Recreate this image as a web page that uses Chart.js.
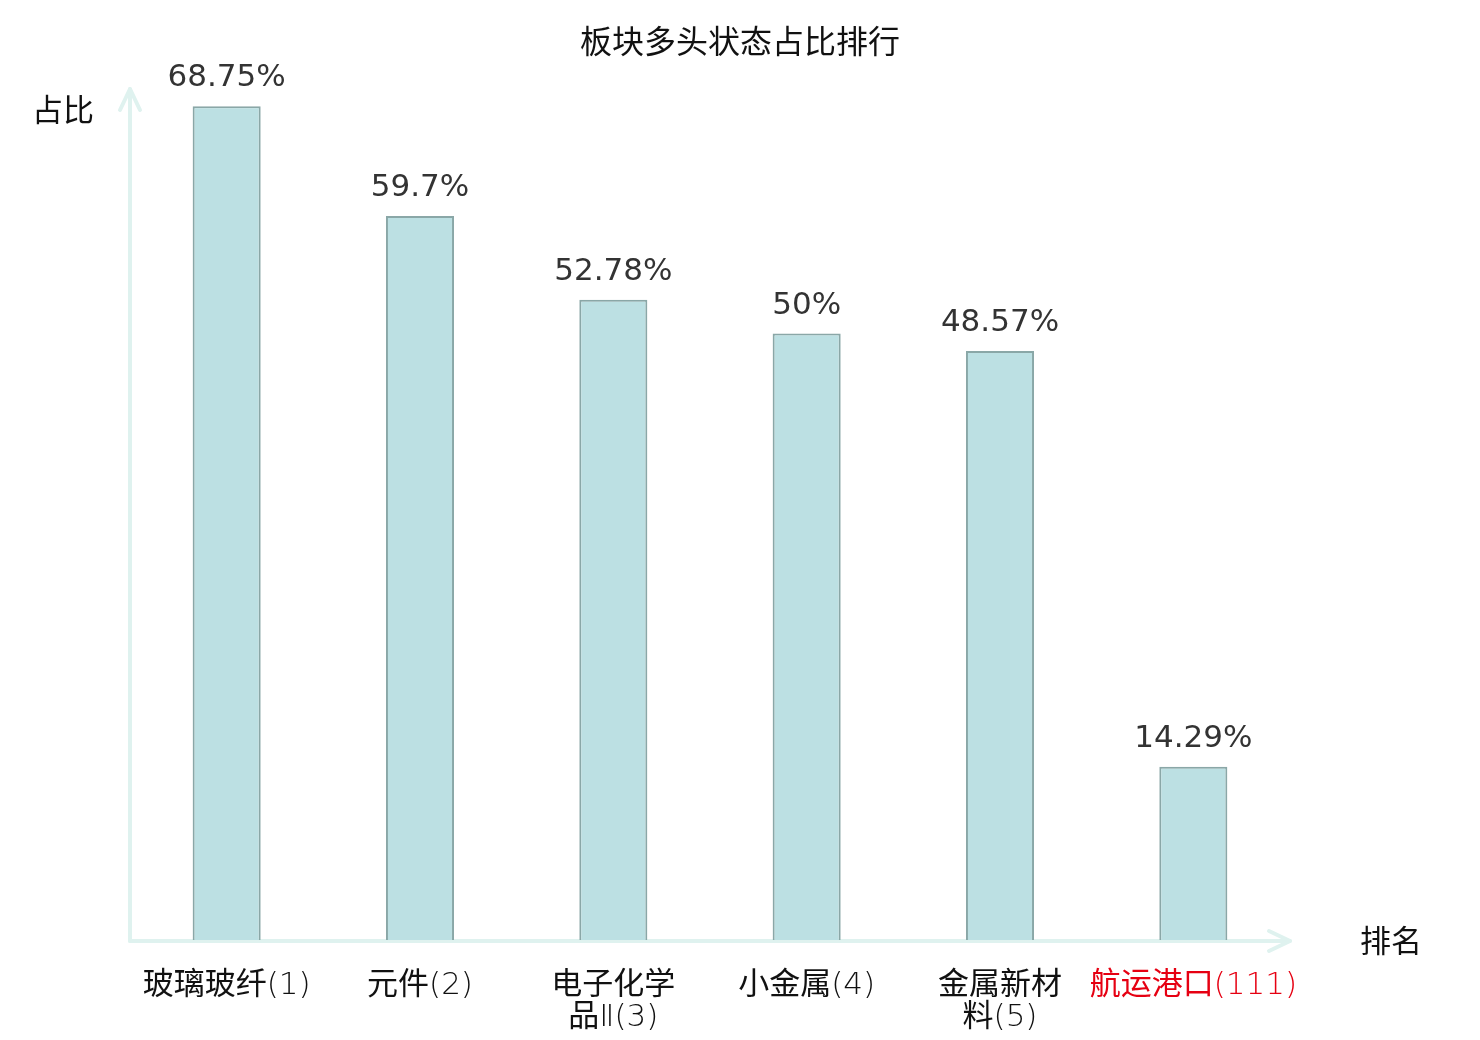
<!DOCTYPE html>
<html>
<head>
<meta charset="utf-8">
<script src="https://cdn.jsdelivr.net/npm/chart.js@4"></script>
<style>
html,body{margin:0;padding:0;background:#fff;}
#wrap{width:1480px;height:1040px;position:relative;}
</style>
</head>
<body>
<div id="wrap"><canvas id="c" width="1480" height="1040"></canvas></div>
<script>
const categories = [["玻璃玻纤(1)"], ["元件(2)"], ["电子化学", "品Ⅱ(3)"], ["小金属(4)"], ["金属新材", "料(5)"], ["航运港口(111)"]];
const values = [68.75, 59.7, 52.78, 50, 48.57, 14.29];
const valueLabels = ["68.75%", "59.7%", "52.78%", "50%", "48.57%", "14.29%"];
const tickColors = ["#111111", "#111111", "#111111", "#111111", "#111111", "#e60012"];
const chartTitle = "板块多头状态占比排行";
const yAxisName = "占比";
const xAxisName = "排名";

const AXIS_COLOR = "#dff2ef";

const decorPlugin = {
  id: "decor",
  beforeDatasetsDraw(chart) {
    const ctx = chart.ctx;
    const a = chart.chartArea;
    ctx.save();
    ctx.strokeStyle = AXIS_COLOR;
    ctx.lineWidth = 4;
    ctx.lineCap = "round";
    ctx.lineJoin = "round";
    // y axis
    ctx.beginPath();
    ctx.moveTo(a.left, a.bottom + 1);
    ctx.lineTo(a.left, a.top - 2);
    ctx.stroke();
    ctx.beginPath();
    ctx.moveTo(a.left - 10, a.top + 19);
    ctx.lineTo(a.left, a.top - 2);
    ctx.lineTo(a.left + 10, a.top + 19);
    ctx.stroke();
    // x axis
    ctx.beginPath();
    ctx.moveTo(a.left, a.bottom + 1);
    ctx.lineTo(a.right, a.bottom + 1);
    ctx.stroke();
    ctx.beginPath();
    ctx.moveTo(a.right - 21, a.bottom - 9);
    ctx.lineTo(a.right, a.bottom + 1);
    ctx.lineTo(a.right - 21, a.bottom + 11);
    ctx.stroke();
    ctx.restore();
  },
  afterDatasetsDraw(chart) {
    const ctx = chart.ctx;
    ctx.save();
    // value labels
    ctx.font = "31px 'DejaVu Sans', 'Noto Sans CJK SC'";
    ctx.fillStyle = "#333333";
    ctx.textAlign = "center";
    ctx.textBaseline = "middle";
    const meta = chart.getDatasetMeta(0);
    meta.data.forEach((bar, i) => {
      ctx.fillText(valueLabels[i], bar.x, bar.y - 28);
    });
    // title
    ctx.font = "32px 'DejaVu Sans', 'Noto Sans CJK SC'";
    ctx.fillStyle = "#111111";
    ctx.fillText(chartTitle, 740, 45);
    // axis names
    ctx.font = "31px 'DejaVu Sans', 'Noto Sans CJK SC'";
    ctx.fillText(yAxisName, 63, 113);
    ctx.fillText(xAxisName, 1391, 944);
    ctx.restore();
  }
};

new Chart(document.getElementById("c"), {
  type: "bar",
  data: {
    labels: categories,
    datasets: [{
      data: values,
      backgroundColor: "#bce0e3",
      borderColor: "#8aa7a7",
      borderWidth: 2,
      borderSkipped: "bottom",
      categoryPercentage: 1,
      barPercentage: 0.352
    }]
  },
  options: {
    responsive: false,
    animation: false,
    devicePixelRatio: 1,
    layout: { padding: { left: 130, right: 190, top: 91, bottom: 0 } },
    plugins: {
      legend: { display: false },
      title: { display: false },
      tooltip: { enabled: false }
    },
    scales: {
      y: {
        display: false,
        min: 0,
        max: 70
      },
      x: {
        grid: { display: false, drawTicks: false },
        border: { display: false },
        afterFit(scale) { scale.height = 100; },
        ticks: {
          autoSkip: false,
          maxRotation: 0,
          padding: 30,
          color: tickColors,
          font: { family: "'DejaVu Sans ExtraLight', 'DejaVu Sans Light', 'Noto Sans CJK SC'", size: 31, weight: "normal", lineHeight: 1.03 }
        }
      }
    }
  },
  plugins: [decorPlugin]
});
</script>
</body>
</html>
